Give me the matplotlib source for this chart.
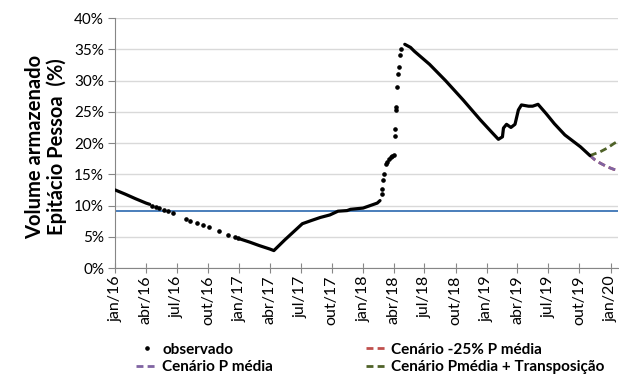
import matplotlib.pyplot as plt
import pandas as pd
from matplotlib.lines import Line2D

plt.rcParams['font.family'] = ['Lato', 'DejaVu Sans']

# observed storage (%), dense stretches drawn as a solid line (None = break)
obs_line_dates = [
    '2016-01-01', '2016-02-01', '2016-03-01', '2016-04-01', '2016-04-12', None,
    '2017-01-01', '2017-02-01', '2017-03-01', '2017-04-01', '2017-04-13', '2017-05-15',
    '2017-06-10', '2017-07-06', '2017-08-01', '2017-08-28', '2017-09-25', '2017-10-19',
    '2017-11-15', '2017-11-25', '2018-01-01', '2018-01-22', '2018-02-12', '2018-02-20', None,
    '2018-05-04', '2018-05-21', '2018-06-01', '2018-07-16', '2018-09-01', '2018-10-23',
    '2018-12-13', '2019-01-16', '2019-02-04', '2019-02-16', '2019-02-19', '2019-02-28',
    '2019-03-13', '2019-03-25', '2019-04-04', '2019-04-13', '2019-05-04', '2019-05-16',
    '2019-06-01', '2019-06-25', '2019-07-19', '2019-08-19', '2019-10-04', '2019-11-01',
]
obs_line_vals = [
    12.5, 11.8, 11.1, 10.4, 10.2, None,
    4.7, 4.15, 3.6, 3.05, 2.8, 4.5,
    5.8, 7.1, 7.6, 8.1, 8.5, 9.1,
    9.2, 9.4, 9.6, 10.0, 10.4, 10.8, None,
    35.8, 35.3, 34.7, 32.6, 30.0, 26.9,
    23.7, 21.7, 20.6, 21.0, 22.4, 23.0,
    22.5, 23.0, 25.3, 26.1, 25.9, 25.9,
    26.2, 24.7, 23.1, 21.3, 19.4, 18.0,
]

# observed storage (%), sparse stretches seen as separate dots
obs_dot_dates = [
    '2016-04-20', '2016-05-01', '2016-05-10', '2016-05-25', '2016-06-04', '2016-06-19',
    '2016-07-28', '2016-08-10', '2016-08-30', '2016-09-16', '2016-10-03', '2016-11-01',
    '2016-11-30', '2016-12-19', '2016-12-28',
    '2018-02-25', '2018-02-27', '2018-03-02', '2018-03-04', '2018-03-10', '2018-03-14',
    '2018-03-19', '2018-03-24', '2018-03-28', '2018-04-01', '2018-04-04', '2018-04-06',
    '2018-04-07', '2018-04-09', '2018-04-11', '2018-04-14', '2018-04-17', '2018-04-21',
    '2018-04-24',
]
obs_dot_vals = [
    10.0, 9.8, 9.6, 9.3, 9.1, 8.8,
    7.9, 7.6, 7.2, 6.9, 6.5, 5.9,
    5.3, 4.9, 4.8,
    11.8, 12.6, 14.1, 15.0, 16.7, 17.0,
    17.5, 17.7, 17.9, 18.1, 21.1, 22.3,
    25.3, 25.8, 29.0, 31.1, 32.2, 34.1,
    35.1,
]

scen_dates = ['2019-11-01', '2019-11-16', '2019-12-01', '2019-12-22', '2020-01-10', '2020-01-22']
scen_minus25 = [18.0, 17.3, 16.8, 16.2, 15.8, 15.7]
scen_pmedia = [18.0, 17.3, 16.8, 16.2, 15.8, 15.7]
scen_transp = [18.0, 18.3, 18.6, 19.2, 19.9, 20.3]

ref_level = 9.2

tick_dates = pd.date_range('2016-01-01', '2020-01-01', freq='3MS')
month_pt = {1: 'jan', 4: 'abr', 7: 'jul', 10: 'out'}
tick_labels = [f"{month_pt[d.month]}/{d.strftime('%y')}" for d in tick_dates]

fig = plt.figure(figsize=(6.19, 3.76), dpi=100)
ax = fig.add_axes([0.186, 0.287, 0.812, 0.665])

ax.axhline(ref_level, color='#4a7ebb', lw=1.4, zorder=2)

# split the dense observed stretches at the None breaks
seg_d, seg_v = [], []
for dt, val in zip(obs_line_dates + [None], obs_line_vals + [None]):
    if dt is None:
        if seg_d:
            ax.plot(pd.to_datetime(seg_d), seg_v, color='black', lw=2.3,
                    solid_capstyle='round', zorder=4)
        seg_d, seg_v = [], []
    else:
        seg_d.append(dt)
        seg_v.append(val)

ax.plot(pd.to_datetime(obs_dot_dates), obs_dot_vals, ls='none', marker='o',
        ms=2.3, color='black', zorder=4)

sd = pd.to_datetime(scen_dates)
dash = (0, (2.5, 1.5))
ax.plot(sd, scen_minus25, color='#c0504d', lw=2, ls=dash, zorder=3)
ax.plot(sd, scen_pmedia, color='#8064a2', lw=2, ls=dash, zorder=3)
ax.plot(sd, scen_transp, color='#4f6228', lw=2, ls=dash, zorder=3)

ax.set_xlim(pd.Timestamp('2016-01-01'), pd.Timestamp('2020-01-22'))
ax.set_ylim(0, 40)
ax.set_yticks(range(0, 41, 5))
ax.set_yticklabels([f'{t}%' for t in range(0, 41, 5)], fontsize=11)
ax.set_xticks(tick_dates)
ax.set_xticklabels(tick_labels, rotation=90, fontsize=11.5)
ax.tick_params(axis='x', direction='inout', length=7, color='#868686', pad=2)
ax.tick_params(axis='y', direction='out', length=5, color='#868686', pad=3)

ax.grid(axis='y', color='#d9d9d9', lw=1)
ax.set_axisbelow(True)
for s in ['top', 'right']:
    ax.spines[s].set_visible(False)
for s in ['left', 'bottom']:
    ax.spines[s].set_color('#868686')

fig.text(0.074, 0.609, 'Volume armazenado\nEpitácio Pessoa  (%)', rotation=90,
         ha='center', va='center', fontsize=14.5, fontweight='bold', linespacing=1.08)

leg_font = {'weight': 'bold', 'size': 11}
col1 = [Line2D([], [], ls='none', marker='o', ms=2.3, color='black'),
        Line2D([], [], color='#8064a2', lw=2, ls=dash)]
col2 = [Line2D([], [], color='#c0504d', lw=2, ls=dash),
        Line2D([], [], color='#4f6228', lw=2, ls=dash)]
leg1 = fig.legend(col1, ['observado', 'Cenário P média'], loc='lower left',
                  bbox_to_anchor=(0.21, -0.012), frameon=False, handlelength=1.4,
                  handletextpad=0.3, labelspacing=0.25, borderaxespad=0, prop=leg_font)
leg2 = fig.legend(col2, ['Cenário -25% P média', 'Cenário Pmédia + Transposição'],
                  loc='lower left', bbox_to_anchor=(0.582, -0.012), frameon=False,
                  handlelength=1.4, handletextpad=0.2, labelspacing=0.25,
                  borderaxespad=0, prop=leg_font)

fig.savefig('out.png', dpi=100)
